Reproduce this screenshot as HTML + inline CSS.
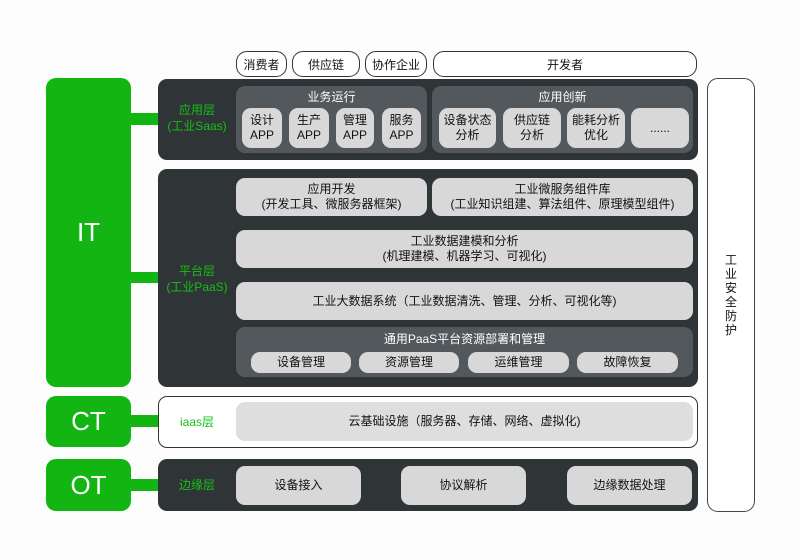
<!DOCTYPE html>
<html><head><meta charset="utf-8"><style>
body{margin:0;background:#fdfdfd;}
#c{position:relative;width:800px;height:560px;font-family:"Liberation Sans","Noto Sans CJK SC",sans-serif;color:#111;}
.a{position:absolute;box-sizing:border-box;display:flex;align-items:center;justify-content:center;text-align:center;}
.g{background:#12b512;border-radius:10px;color:#fff;font-size:26px;}
.cn{background:#12b512;}
.d{background:#2f3437;border-radius:9px;}
.grp{background:#53585c;border-radius:9px;color:#fff;font-size:12px;align-items:flex-start;padding-top:2px;}
.it{background:#d8d8d8;border-radius:9px;font-size:12px;line-height:15px;}
.p{border:1.5px solid #333;border-radius:11px;background:#fff;font-size:12px;}
.lab{color:#16c016;font-size:12px;line-height:16px;}
</style></head><body><div id="c">
<div class="a g" style="left:46px;top:78px;width:85px;height:309px;">IT</div>
<div class="a g" style="left:46px;top:396px;width:85px;height:51px;">CT</div>
<div class="a g" style="left:46px;top:459px;width:85px;height:52px;">OT</div>
<div class="a cn" style="left:130px;top:113px;width:30px;height:12px;"></div>
<div class="a cn" style="left:130px;top:272px;width:30px;height:11px;"></div>
<div class="a cn" style="left:130px;top:415px;width:30px;height:12px;"></div>
<div class="a cn" style="left:130px;top:479px;width:30px;height:12px;"></div>

<div class="a p" style="left:236px;top:51px;width:51px;height:26px;">消费者</div>
<div class="a p" style="left:292px;top:51px;width:68px;height:26px;">供应链</div>
<div class="a p" style="left:365px;top:51px;width:62px;height:26px;">协作企业</div>
<div class="a p" style="left:433px;top:51px;width:264px;height:26px;">开发者</div>

<div class="a d" style="left:158px;top:79px;width:540px;height:81px;"></div>
<div class="a lab" style="left:158px;top:100px;width:78px;height:36px;">应用层<br>(工业Saas)</div>
<div class="a grp" style="left:236px;top:86px;width:191px;height:67px;">业务运行</div>
<div class="a grp" style="left:432px;top:86px;width:261px;height:67px;">应用创新</div>
<div class="a it" style="left:242px;top:108px;width:40px;height:40px;">设计<br>APP</div>
<div class="a it" style="left:289px;top:108px;width:40px;height:40px;">生产<br>APP</div>
<div class="a it" style="left:336px;top:108px;width:38px;height:40px;">管理<br>APP</div>
<div class="a it" style="left:382px;top:108px;width:39px;height:40px;">服务<br>APP</div>
<div class="a it" style="left:439px;top:108px;width:57px;height:40px;">设备状态<br>分析</div>
<div class="a it" style="left:503px;top:108px;width:58px;height:40px;">供应链<br>分析</div>
<div class="a it" style="left:567px;top:108px;width:58px;height:40px;">能耗分析<br>优化</div>
<div class="a it" style="left:631px;top:108px;width:58px;height:40px;">......</div>

<div class="a d" style="left:158px;top:169px;width:540px;height:218px;"></div>
<div class="a lab" style="left:158px;top:262px;width:78px;height:34px;">平台层<br>(工业PaaS)</div>
<div class="a it" style="left:236px;top:178px;width:191px;height:38px;">应用开发<br>(开发工具、微服务器框架)</div>
<div class="a it" style="left:432px;top:178px;width:261px;height:38px;">工业微服务组件库<br>(工业知识组建、算法组件、原理模型组件)</div>
<div class="a it" style="left:236px;top:230px;width:457px;height:38px;">工业数据建模和分析<br>(机理建模、机器学习、可视化)</div>
<div class="a it" style="left:236px;top:282px;width:457px;height:38px;">工业大数据系统（工业数据清洗、管理、分析、可视化等)</div>
<div class="a grp" style="left:236px;top:327px;width:457px;height:50px;padding-top:3px;">通用PaaS平台资源部署和管理</div>
<div class="a it" style="left:251px;top:352px;width:100px;height:21px;">设备管理</div>
<div class="a it" style="left:359px;top:352px;width:100px;height:21px;">资源管理</div>
<div class="a it" style="left:468px;top:352px;width:101px;height:21px;">运维管理</div>
<div class="a it" style="left:577px;top:352px;width:101px;height:21px;">故障恢复</div>

<div class="a" style="left:158px;top:396px;width:540px;height:52px;border:1.5px solid #333;border-radius:9px;background:#fff;"></div>
<div class="a lab" style="left:158px;top:410px;width:78px;height:24px;">iaas层</div>
<div class="a it" style="left:236px;top:402px;width:457px;height:39px;background:#dedede;">云基础设施（服务器、存储、网络、虚拟化)</div>

<div class="a d" style="left:158px;top:459px;width:540px;height:52px;"></div>
<div class="a lab" style="left:158px;top:473px;width:78px;height:24px;">边缘层</div>
<div class="a it" style="left:236px;top:466px;width:125px;height:39px;">设备接入</div>
<div class="a it" style="left:401px;top:466px;width:125px;height:39px;">协议解析</div>
<div class="a it" style="left:567px;top:466px;width:125px;height:39px;">边缘数据处理</div>

<div class="a" style="left:707px;top:78px;width:48px;height:434px;border:1.5px solid #444;border-radius:11px;background:#fff;font-size:12px;line-height:14px;">工<br>业<br>安<br>全<br>防<br>护</div>
</div></body></html>
